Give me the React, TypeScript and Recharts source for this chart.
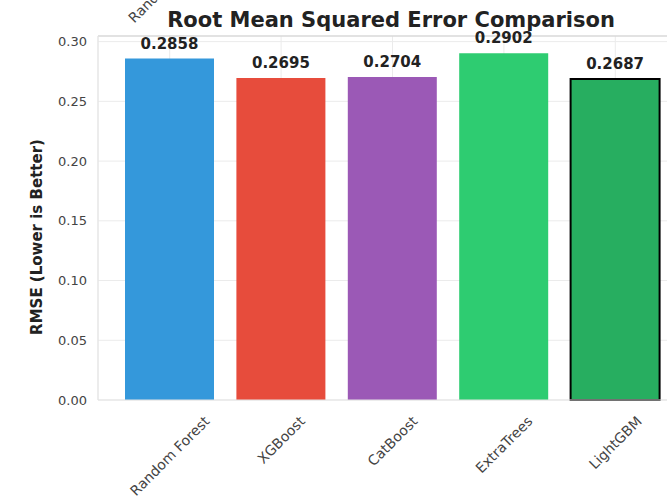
import { BarChart, Bar, XAxis, YAxis, CartesianGrid, Cell, LabelList, ReferenceLine } from 'recharts'

const models = ['Random Forest', 'XGBoost', 'CatBoost', 'ExtraTrees', 'LightGBM']
const rmse = [0.2858, 0.2695, 0.2704, 0.2902, 0.2687]
const barColors = ['#3498db', '#e74c3c', '#9b59b6', '#2ecc71', '#27ae60']
const yTicks = [0, 0.05, 0.1, 0.15, 0.2, 0.25, 0.3]

const data = models.map((model, i) => ({ model, rmse: rmse[i] }))
const yMax = Math.max(...rmse) * 1.05

const FONT = '"DejaVu Sans", sans-serif'

function textWidth(s: string, font: string) {
  const ctx = document.createElement('canvas').getContext('2d')
  if (!ctx) return s.length * 8.5
  ctx.font = font
  return ctx.measureText(s).width
}

// matplotlib-style 45° label, centred on the tick, top of its box just under the axis
function rotatedLabelCenter(label: string, x: number, top: number) {
  const w = textWidth(label, `14px ${FONT}`)
  const h = 16
  return { cx: x, cy: top + ((w + h) * Math.SQRT1_2) / 2 }
}

function XTick(props: any) {
  const { x, payload } = props
  const { cx, cy } = rotatedLabelCenter(payload.value, x, 413)
  return (
    <text
      x={cx}
      y={cy}
      textAnchor="middle"
      dominantBaseline="central"
      transform={`rotate(-45, ${cx}, ${cy})`}
      fontSize={14}
      fontFamily={FONT}
      fill="#444"
    >
      {payload.value}
    </text>
  )
}

function ValueLabel(props: any) {
  const { x, y, width, value } = props
  return (
    <text x={x + width / 2} y={y - 10} textAnchor="middle" fontSize={15} fontWeight="bold" fontFamily={FONT} fill="#222">
      {Number(value).toFixed(4)}
    </text>
  )
}

export default function App() {
  // tick label of the subplot above, mostly cut off by the crop
  const stray = rotatedLabelCenter(models[0], 168, -60)
  return (
    <div style={{ position: 'fixed', left: 0, top: 0, width: 667, height: 501, overflow: 'hidden', background: '#fff' }}>
      <BarChart width={700} height={501} data={data} margin={{ top: 36, right: 13, bottom: 0, left: 0 }}>
        <CartesianGrid stroke="#ebebeb" />
        <ReferenceLine y={yMax} stroke="#cfcfcf" />
        <XAxis
          dataKey="model"
          height={101}
          padding={{ left: 16, right: 16 }}
          tickLine={false}
          axisLine={{ stroke: '#e3e3e3' }}
          tick={<XTick />}
          interval={0}
        />
        <YAxis
          width={98}
          domain={[0, yMax]}
          ticks={yTicks}
          tickFormatter={(v: number) => v.toFixed(2)}
          tickLine={false}
          tickMargin={5}
          axisLine={{ stroke: '#e3e3e3' }}
          tick={{ fontSize: 13, fontFamily: FONT, fill: '#444' }}
          label={{
            content: () => (
              <text
                x={37}
                y={237}
                transform="rotate(-90, 37, 237)"
                textAnchor="middle"
                dominantBaseline="central"
                fontSize={15}
                fontWeight="bold"
                fontFamily={FONT}
                fill="#222"
              >
                RMSE (Lower is Better)
              </text>
            ),
          }}
        />
        <Bar dataKey="rmse" barSize={89} isAnimationActive={false}>
          {data.map((d, i) => (
            <Cell
              key={d.model}
              fill={barColors[i]}
              stroke={d.model === 'LightGBM' ? '#000' : 'none'}
              strokeWidth={d.model === 'LightGBM' ? 2 : 0}
            />
          ))}
          <LabelList dataKey="rmse" content={<ValueLabel />} />
        </Bar>
      </BarChart>
      <svg width={667} height={501} style={{ position: 'absolute', left: 0, top: 0, pointerEvents: 'none' }}>
        <text x={391} y={27} textAnchor="middle" fontSize={21} fontWeight="bold" fontFamily={FONT} fill="#222">
          Root Mean Squared Error Comparison
        </text>
        <text
          x={stray.cx}
          y={stray.cy}
          textAnchor="middle"
          dominantBaseline="central"
          transform={`rotate(-45, ${stray.cx}, ${stray.cy})`}
          fontSize={14}
          fontFamily={FONT}
          fill="#444"
        >
          {models[0]}
        </text>
      </svg>
    </div>
  )
}
